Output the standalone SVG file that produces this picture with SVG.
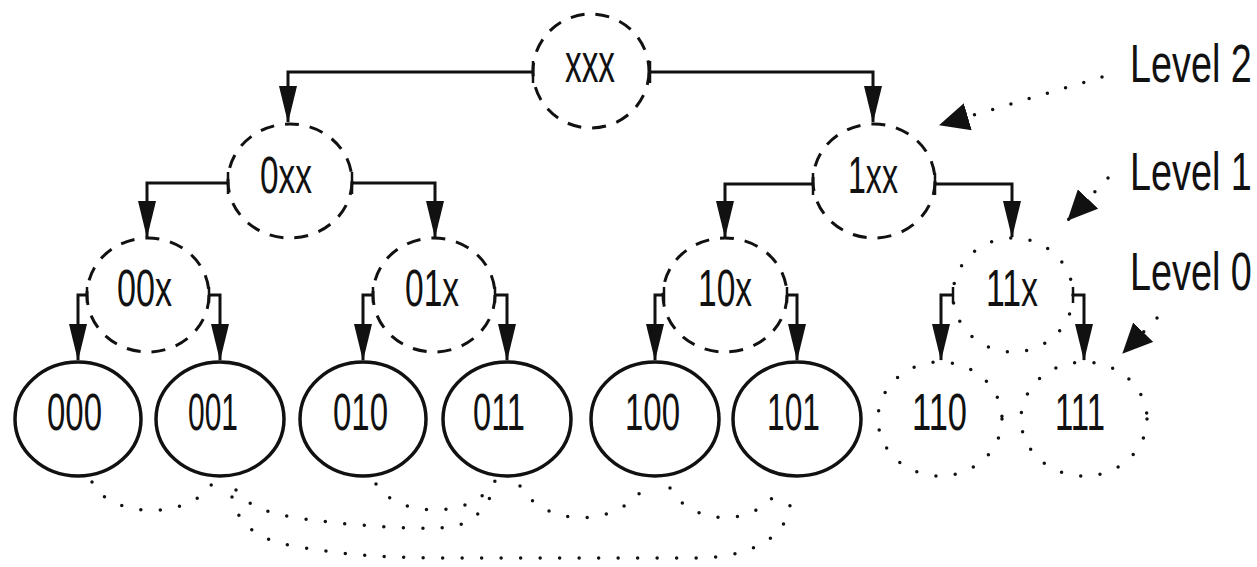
<svg xmlns="http://www.w3.org/2000/svg" width="1257" height="567" viewBox="0 0 1257 567">
<style>
.solid{fill:#fff;stroke:#111;stroke-width:3.5}
.dash{fill:none;stroke:#111;stroke-width:3;stroke-dasharray:14 11}
.dot{fill:none;stroke:#111;stroke-width:3.5;stroke-dasharray:0 19.5;stroke-linecap:round}
.lbl{font-family:'Liberation Sans',Arial,sans-serif;font-size:52px;fill:#111}
.lvl{font-family:'Liberation Sans',Arial,sans-serif;font-size:54px;fill:#111}
.edge{fill:none;stroke:#111;stroke-width:3;marker-end:url(#ah);marker-start:url(#bar)}
.hook{fill:none;stroke:#111;stroke-width:3;marker-end:url(#ah);marker-start:url(#barS)}
.link{fill:none;stroke:#111;stroke-width:3.5;stroke-dasharray:0 19.5;stroke-linecap:round}
.ptr{fill:none;stroke:#111;stroke-width:3.5;stroke-dasharray:0 19;stroke-linecap:round;marker-end:url(#ah2)}
</style>
<defs>
<marker id="ah" markerUnits="userSpaceOnUse" markerWidth="37" markerHeight="18" viewBox="0 0 37 18" refX="36" refY="9" orient="auto"><path d="M0,0 L37,9 L0,18 Z" fill="#111"/></marker>
<marker id="ah2" markerUnits="userSpaceOnUse" markerWidth="30" markerHeight="28" viewBox="0 0 30 28" refX="29" refY="14" orient="auto"><path d="M0,0 L30,14 L0,28 Z" fill="#111"/></marker>
<marker id="bar" markerUnits="userSpaceOnUse" markerWidth="4" markerHeight="24" viewBox="-2 -12 4 24" refX="0" refY="0" orient="auto"><path d="M0,-11 V11" stroke="#111" stroke-width="2.5"/></marker>
<marker id="barS" markerUnits="userSpaceOnUse" markerWidth="4" markerHeight="18" viewBox="-2 -9 4 18" refX="0" refY="0" orient="auto"><path d="M0,-8 V8" stroke="#111" stroke-width="2.5"/></marker>
</defs>
<rect width="1257" height="567" fill="#fff"/>

<g id="connectors">
  <path class="edge" d="M533,72 H288 V122"/>
  <path class="edge" d="M650,72 H873 V122"/>
  <path class="edge" d="M228,183 H147 V237"/>
  <path class="edge" d="M352,183 H435 V237"/>
  <path class="edge" d="M813,184 H725 V237"/>
  <path class="edge" d="M935,184 H1012 V237"/>
  <path class="hook" d="M87,295 H78 V360"/>
  <path class="hook" d="M209,295 H220 V360"/>
  <path class="hook" d="M373,295 H363 V360"/>
  <path class="hook" d="M495,295 H507 V360"/>
  <path class="hook" d="M664,295 H655 V360"/>
  <path class="hook" d="M787,295 H797 V360"/>
  <path class="hook" d="M953,295 H941 V360"/>
  <path class="hook" d="M1073,295 H1084 V360"/>
  <path class="ptr" d="M1102,77 L940,125"/>
  <path class="ptr" d="M1108,178 L1068,220"/>
  <path class="ptr" d="M1157,318 L1123,353"/>
  <path class="link" d="M92,482 C110,520 195,520 214,480"/>
  <path class="link" d="M376,484 C398,519 475,519 495,481"/>
  <path class="link" d="M520,486 C545,529 622,529 648,481"/>
  <path class="link" d="M670,488 C692,528 760,528 781,485"/>
  <path class="link" d="M236,490 C252,512 282,516 320,521 C370,527 430,530 452,527 C475,522 490,505 494,485"/>
  <path class="link" d="M232,497 C238,525 258,541 300,547 C350,556 400,558 450,558 L700,558 C740,557 770,545 783,525 C790,512 792,500 790,488"/>
</g>

<g id="node-xxx"><ellipse class="dash" cx="591" cy="71" rx="58" ry="57"/><text class="lbl" x="565" y="82" textLength="50" lengthAdjust="spacingAndGlyphs" style="font-size:56px">xxx</text></g>
<g id="node-0xx"><ellipse class="dash" cx="290" cy="181" rx="62" ry="57"/><text class="lbl" x="260" y="193" textLength="52" lengthAdjust="spacingAndGlyphs">0xx</text></g>
<g id="node-1xx"><ellipse class="dash" cx="874" cy="181" rx="61" ry="57"/><text class="lbl" x="848" y="193" textLength="50" lengthAdjust="spacingAndGlyphs">1xx</text></g>
<g id="node-00x"><ellipse class="dash" cx="148" cy="295" rx="61" ry="57"/><text class="lbl" x="117" y="306" textLength="55" lengthAdjust="spacingAndGlyphs">00x</text></g>
<g id="node-01x"><ellipse class="dash" cx="434" cy="295" rx="61" ry="57"/><text class="lbl" x="405" y="306" textLength="54" lengthAdjust="spacingAndGlyphs">01x</text></g>
<g id="node-10x"><ellipse class="dash" cx="725" cy="295" rx="62" ry="57"/><text class="lbl" x="698" y="306" textLength="54" lengthAdjust="spacingAndGlyphs">10x</text></g>
<g id="node-11x"><ellipse class="dot" cx="1013" cy="295" rx="60" ry="57"/><text class="lbl" x="986" y="306" textLength="52" lengthAdjust="spacingAndGlyphs">11x</text></g>

<g id="node-000"><ellipse class="solid" cx="78" cy="419" rx="63" ry="57"/><text class="lbl" x="47" y="430" textLength="55" lengthAdjust="spacingAndGlyphs">000</text></g>
<g id="node-001"><ellipse class="solid" cx="220" cy="419" rx="64" ry="57"/><text class="lbl" x="188" y="430" textLength="50" lengthAdjust="spacingAndGlyphs">001</text></g>
<g id="node-010"><ellipse class="solid" cx="363" cy="419" rx="63" ry="57"/><text class="lbl" x="333" y="430" textLength="55" lengthAdjust="spacingAndGlyphs">010</text></g>
<g id="node-011"><ellipse class="solid" cx="507" cy="419" rx="64" ry="57"/><text class="lbl" x="473" y="430" textLength="52" lengthAdjust="spacingAndGlyphs">011</text></g>
<g id="node-100"><ellipse class="solid" cx="655" cy="419" rx="64" ry="57"/><text class="lbl" x="625" y="430" textLength="55" lengthAdjust="spacingAndGlyphs">100</text></g>
<g id="node-101"><ellipse class="solid" cx="797" cy="419" rx="64" ry="57"/><text class="lbl" x="767" y="430" textLength="53" lengthAdjust="spacingAndGlyphs">101</text></g>
<g id="node-110"><ellipse class="dot" cx="940" cy="419" rx="62" ry="57"/><text class="lbl" x="912" y="430" textLength="55" lengthAdjust="spacingAndGlyphs">110</text></g>
<g id="node-111"><ellipse class="dot" cx="1084" cy="419" rx="63" ry="57"/><text class="lbl" x="1055" y="430" textLength="50" lengthAdjust="spacingAndGlyphs">111</text></g>

<g id="levels">
  <text class="lvl" transform="translate(1130,82) scale(0.7,1)" x="0" y="0">Level 2</text>
  <text class="lvl" transform="translate(1130,190) scale(0.7,1)" x="0" y="0">Level 1</text>
  <text class="lvl" transform="translate(1130,290) scale(0.7,1)" x="0" y="0">Level 0</text>
</g>
</svg>
